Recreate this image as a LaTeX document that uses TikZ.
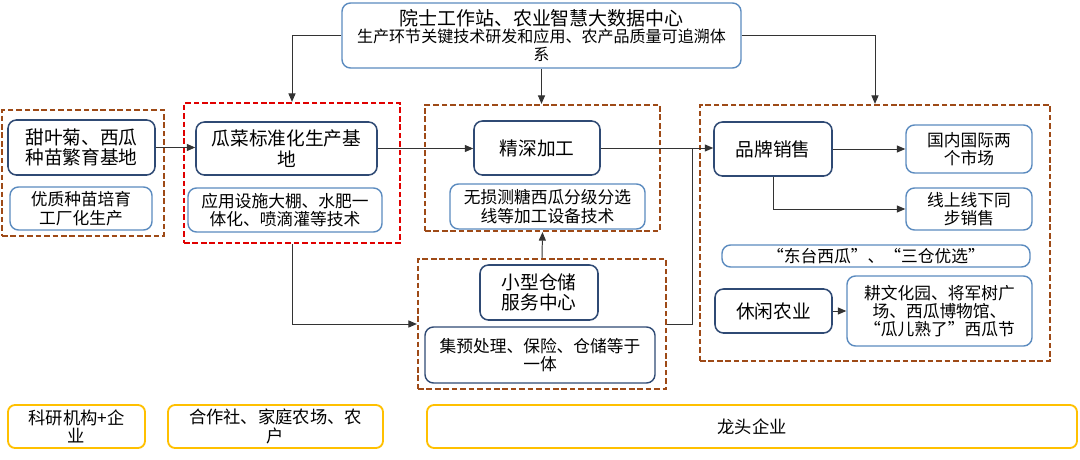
\documentclass[tikz,border=0pt]{standalone}
\usepackage{fontspec}
\setmainfont{Noto Sans CJK SC}
\usepackage{tikz}
\usetikzlibrary{positioning,arrows.meta,calc}
\definecolor{lanshen}{HTML}{2F4A74}
\definecolor{lanqian}{HTML}{5B8BBF}
\definecolor{zongse}{HTML}{9E4A17}
\definecolor{hongse}{HTML}{E00000}
\definecolor{huangse}{HTML}{FFC000}
\definecolor{xianse}{HTML}{333333}
\tikzset{
  zhukuang/.style={rectangle, rounded corners=6pt, draw=lanshen, line width=1.1pt,
    fill=white, align=center, inner sep=1pt, font=\fontsize{13.3pt}{14.6pt}\selectfont},
  zikuang/.style={rectangle, rounded corners=6pt, draw=lanqian, line width=1pt,
    fill=white, align=center, inner sep=1pt, font=\fontsize{11.9pt}{13pt}\selectfont},
  zuxu/.style={rectangle, draw=zongse, line width=1.6pt, dash pattern=on 4pt off 2pt},
  zuhong/.style={zuxu, draw=hongse},
  dikuang/.style={rectangle, rounded corners=5pt, draw=huangse, line width=1.3pt,
    align=center, inner sep=1pt, font=\fontsize{12.3pt}{13pt}\selectfont},
  jiantou/.style={-{Triangle[length=6pt,width=5pt]}, xianse, line width=0.7pt},
  xian/.style={xianse, line width=0.7pt},
}

\begin{document}
\begin{tikzpicture}[x=0.025cm, y=-0.025cm]
    \useasboundingbox (0,0) rectangle (1080,460);
    % dashed groups
    \node[zuxu, minimum width=162*0.025cm, minimum height=126*0.025cm] (gL) at (83,173) {};
    \node[zuhong, minimum width=216*0.025cm, minimum height=140*0.025cm] (gR) at (292,173) {};
    \node[zuxu, minimum width=235*0.025cm, minimum height=126*0.025cm] (gP) at (542.5,168) {};
    \node[zuxu, minimum width=248*0.025cm, minimum height=130*0.025cm] (gW) at (542,324) {};
    \node[zuxu, minimum width=350*0.025cm, minimum height=256*0.025cm] (gS) at (875,233) {};
    % top
    \node[zikuang, minimum width=399*0.025cm, minimum height=65*0.025cm,
      font=\fontsize{11.4pt}{12.2pt}\selectfont] (top) at (541.5,35.5)
      {{\fontsize{13.5pt}{15pt}\selectfont 院士工作站、农业智慧大数据中心}\\
       生产环节关键技术研发和应用、农产品质量可追溯体\\系};
    % seedlings
    \node[zhukuang, minimum width=147*0.025cm, minimum height=55*0.025cm] (seed) at (81.5,147.5)
      {甜叶菊、西瓜\\种苗繁育基地};
    \node[zikuang, minimum width=142*0.025cm, minimum height=43*0.025cm] (seedsub) at (81,208.5)
      {优质种苗培育\\工厂化生产};
    % base
    \node[zhukuang, minimum width=181*0.025cm, minimum height=53*0.025cm] (veg) at (286.5,148.5)
      {瓜菜标准化生产基\\地};
    \node[zikuang, minimum width=194*0.025cm, minimum height=44*0.025cm] (vegsub) at (285,210)
      {应用设施大棚、水肥一\\体化、喷滴灌等技术};
    % processing
    \node[zhukuang, minimum width=126*0.025cm, minimum height=54*0.025cm] (proc) at (537,148)
      {精深加工};
    \node[zikuang, minimum width=195*0.025cm, minimum height=45*0.025cm] (procsub) at (547.5,206.5)
      {无损测糖西瓜分级分选\\线等加工设备技术};
    % storage
    \node[zhukuang, minimum width=118*0.025cm, minimum height=55*0.025cm] (store) at (539,292.5)
      {小型仓储\\服务中心};
    \node[zikuang, draw=lanshen, minimum width=230*0.025cm, minimum height=56*0.025cm] (storesub) at (540,355)
      {集预处理、保险、仓储等于\\一体};
    % sales
    \node[zhukuang, minimum width=118*0.025cm, minimum height=54*0.025cm] (brand) at (773,149)
      {品牌销售};
    \node[zikuang, minimum width=126*0.025cm, minimum height=48*0.025cm] (mkt) at (969,149)
      {国内国际两\\个市场};
    \node[zikuang, minimum width=126*0.025cm, minimum height=42*0.025cm] (online) at (969,209)
      {线上线下同\\步销售};
    \node[zikuang, minimum width=308*0.025cm, minimum height=22*0.025cm] (slogan) at (876,256)
      {“东台西瓜”、“三仓优选”};
    \node[zhukuang, minimum width=117*0.025cm, minimum height=44*0.025cm] (leisure) at (773.5,311)
      {休闲农业};
    \node[zikuang, minimum width=185*0.025cm, minimum height=70*0.025cm] (leisuresub) at (939.5,311)
      {耕文化园、将军树广\\场、西瓜博物馆、\\“瓜儿熟了”西瓜节};
    % bottom row
    \node[dikuang, minimum width=137*0.025cm, minimum height=43*0.025cm] (b1) at (76.5,426.5)
      {科研机构+企\\业};
    \node[dikuang, minimum width=215*0.025cm, minimum height=43*0.025cm] (b2) at (275.5,426.5)
      {合作社、家庭农场、农\\户};
    \node[dikuang, minimum width=650*0.025cm, minimum height=43*0.025cm] (b3) at (752,426.5)
      {龙头企业};
    % connectors
    \draw[jiantou] (top.west) -| (gR.north);
    \draw[jiantou] (top.south) -- (top.south |- gP.north);
    \draw[jiantou] (top.east) -| (gS.north);
    \draw[jiantou] (seed.east) -- (seed.east -| veg.west);
    \draw[jiantou] (veg.east) -- (veg.east -| proc.west);
    \draw[jiantou] (proc.east) -- (proc.east -| brand.west);
    \coordinate (hui) at (692,148);
    \draw[xian] (gW.east) -| (hui);
    \draw[jiantou] (gR.south) |- (gW.west);
    \draw[jiantou] (gW.north) -- (gP.south);
    \draw[jiantou] (brand.east) -- (brand.east -| mkt.west);
    \draw[jiantou] (brand.south) |- (online.west);
    \draw[jiantou] (leisure.east) -- (leisuresub.west);
\end{tikzpicture}
\end{document}
